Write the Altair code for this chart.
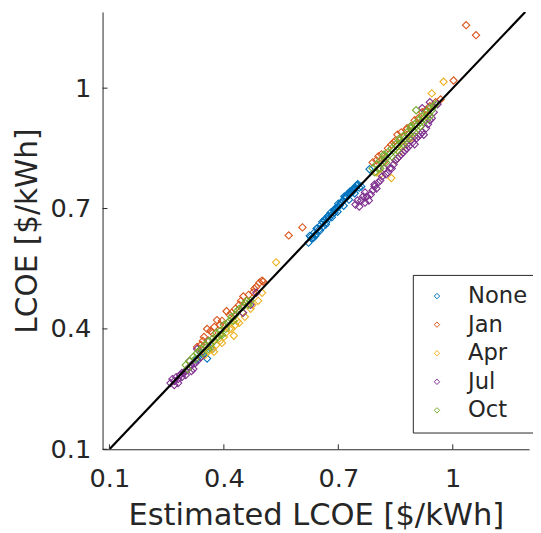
import altair as alt
import pandas as pd

series_names = ["None", "Jan", "Apr", "Jul", "Oct"]
series_colors = ["#0072BD", "#D95319", "#EDB120", "#7E2F8E", "#77AC30"]

none_x = [0.622, 0.628, 0.633, 0.637, 0.641, 0.645, 0.65, 0.655, 0.66, 0.664, 0.668, 0.672, 0.676, 0.68,
          0.684, 0.688, 0.692, 0.696, 0.70, 0.704, 0.708, 0.712, 0.716, 0.72, 0.725, 0.73, 0.735, 0.74,
          0.745, 0.75, 0.751, 0.782, 0.63, 0.66, 0.69, 0.72, 0.74, 0.33, 0.345, 0.356, 0.37,
          0.625, 0.635, 0.643, 0.652, 0.658, 0.667, 0.674, 0.683, 0.69, 0.698, 0.706, 0.714, 0.722,
          0.728, 0.737, 0.743, 0.748, 0.755, 0.64, 0.67, 0.70, 0.73, 0.76, 0.34, 0.365]
none_y = [0.615, 0.63, 0.628, 0.64, 0.636, 0.65, 0.648, 0.66, 0.655, 0.672, 0.665, 0.68, 0.676, 0.69,
          0.685, 0.695, 0.70, 0.70, 0.712, 0.708, 0.715, 0.72, 0.73, 0.728, 0.735, 0.742, 0.74, 0.75,
          0.752, 0.758, 0.761, 0.798, 0.625, 0.665, 0.69, 0.73, 0.745, 0.325, 0.335, 0.326, 0.35,
          0.632, 0.627, 0.65, 0.645, 0.667, 0.66, 0.682, 0.678, 0.697, 0.692, 0.713, 0.707, 0.728,
          0.722, 0.745, 0.738, 0.757, 0.752, 0.632, 0.676, 0.705, 0.738, 0.755, 0.34, 0.352]

jan_x = [1.035, 1.061, 1.002, 0.968, 0.855, 0.839, 0.813, 0.821, 0.878, 0.83, 0.85, 0.87, 0.80, 0.88,
         0.90, 0.92, 0.94, 0.57, 0.606, 0.503, 0.493, 0.477, 0.407, 0.382, 0.356, 0.348, 0.451, 0.37,
         0.39, 0.42, 0.44, 0.46, 0.48, 0.36, 0.79, 0.805, 0.845, 0.865, 0.89, 0.91, 0.93, 0.955,
         0.33, 0.345, 0.365, 0.375, 0.395, 0.415, 0.43, 0.445, 0.465, 0.485, 0.5, 0.34]
jan_y = [1.157, 1.132, 1.019, 0.972, 0.884, 0.859, 0.835, 0.817, 0.896, 0.85, 0.87, 0.88, 0.82, 0.90,
         0.92, 0.94, 0.955, 0.633, 0.653, 0.518, 0.515, 0.491, 0.444, 0.422, 0.40, 0.38, 0.481, 0.39,
         0.41, 0.44, 0.46, 0.47, 0.50, 0.37, 0.815, 0.83, 0.865, 0.89, 0.905, 0.925, 0.945, 0.965,
         0.355, 0.37, 0.395, 0.405, 0.42, 0.435, 0.45, 0.47, 0.485, 0.505, 0.52, 0.36]

apr_x = [0.976, 0.945, 0.839, 0.80, 0.82, 0.86, 0.88, 0.90, 0.93, 0.537, 0.34, 0.36, 0.38, 0.40,
         0.42, 0.43, 0.45, 0.47, 0.49, 0.50, 0.415, 0.374, 0.426, 0.85, 0.87, 0.89, 0.915, 0.81,
         0.35, 0.37, 0.39, 0.405, 0.435, 0.455, 0.475, 0.44, 0.395]
apr_y = [1.016, 0.987, 0.776, 0.79, 0.80, 0.84, 0.87, 0.89, 0.93, 0.566, 0.33, 0.345, 0.36, 0.38,
         0.40, 0.41, 0.44, 0.45, 0.47, 0.49, 0.40, 0.343, 0.383, 0.82, 0.855, 0.875, 0.905, 0.785,
         0.335, 0.35, 0.37, 0.39, 0.42, 0.43, 0.46, 0.415, 0.365]

jul_x = [0.26, 0.27, 0.275, 0.28, 0.285, 0.29, 0.295, 0.30, 0.305, 0.31, 0.315, 0.32, 0.325, 0.33,
         0.34, 0.27, 0.29, 0.33, 0.45, 0.47, 0.485, 0.36, 0.745, 0.755, 0.76, 0.77, 0.775, 0.785,
         0.79, 0.80, 0.765, 0.78, 0.81, 0.83, 0.84, 0.85, 0.86, 0.87, 0.88, 0.90, 0.91, 0.92, 0.93,
         0.94, 0.95, 0.89, 0.924, 0.94, 0.92, 0.96, 0.265, 0.28, 0.3, 0.315, 0.31, 0.795, 0.805,
         0.815, 0.825, 0.835, 0.845, 0.855, 0.865, 0.875, 0.885, 0.895, 0.905, 0.915, 0.935, 0.945,
         0.75, 0.77, 0.795, 0.82, 0.88, 0.9]
jul_y = [0.265, 0.27, 0.28, 0.275, 0.285, 0.28, 0.29, 0.295, 0.30, 0.305, 0.31, 0.30, 0.315, 0.32,
         0.33, 0.26, 0.29, 0.35, 0.44, 0.46, 0.49, 0.37, 0.71, 0.705, 0.72, 0.715, 0.73, 0.735,
         0.745, 0.75, 0.73, 0.72, 0.77, 0.79, 0.80, 0.82, 0.83, 0.84, 0.85, 0.86, 0.88, 0.89, 0.90,
         0.92, 0.94, 0.87, 0.884, 0.965, 0.95, 0.96, 0.275, 0.265, 0.285, 0.295, 0.32, 0.76, 0.765,
         0.78, 0.785, 0.80, 0.81, 0.825, 0.835, 0.845, 0.855, 0.865, 0.875, 0.885, 0.91, 0.925,
         0.72, 0.74, 0.755, 0.80, 0.86, 0.88]

oct_x = [0.79, 0.80, 0.805, 0.81, 0.815, 0.82, 0.825, 0.83, 0.835, 0.84, 0.845, 0.85, 0.855, 0.86,
         0.865, 0.87, 0.875, 0.88, 0.885, 0.89, 0.895, 0.90, 0.905, 0.91, 0.915, 0.92, 0.925, 0.93,
         0.935, 0.94, 0.945, 0.904, 0.95, 0.955, 0.30, 0.31, 0.32, 0.33, 0.34, 0.35, 0.355, 0.36,
         0.37, 0.38, 0.39, 0.40, 0.41, 0.42, 0.43, 0.44, 0.45, 0.46, 0.47, 0.345, 0.365, 0.385, 0.405,
         0.795, 0.81, 0.825, 0.84, 0.855, 0.87, 0.885, 0.90, 0.915, 0.93, 0.94, 0.82, 0.86, 0.89,
         0.305, 0.325, 0.335, 0.375, 0.395, 0.415, 0.425, 0.435, 0.455, 0.465, 0.36, 0.39]
oct_y = [0.80, 0.81, 0.80, 0.82, 0.815, 0.83, 0.825, 0.84, 0.835, 0.85, 0.845, 0.86, 0.855, 0.87,
         0.865, 0.88, 0.875, 0.89, 0.885, 0.90, 0.895, 0.91, 0.905, 0.92, 0.915, 0.93, 0.925, 0.94,
         0.935, 0.95, 0.945, 0.945, 0.955, 0.96, 0.31, 0.32, 0.33, 0.34, 0.35, 0.36, 0.355, 0.37,
         0.375, 0.39, 0.395, 0.41, 0.415, 0.43, 0.435, 0.45, 0.455, 0.47, 0.47, 0.34, 0.36, 0.38, 0.40,
         0.79, 0.80, 0.815, 0.83, 0.845, 0.86, 0.875, 0.89, 0.905, 0.92, 0.93, 0.835, 0.875, 0.905,
         0.30, 0.325, 0.345, 0.37, 0.385, 0.42, 0.42, 0.445, 0.465, 0.46, 0.35, 0.385]

ref_line_vals = [0.1, 1.19]
tick_vals = [0.1, 0.4, 0.7, 1.0]

rows = []
for name, xs_, ys_ in [("None", none_x, none_y), ("Jan", jan_x, jan_y), ("Apr", apr_x, apr_y),
                       ("Jul", jul_x, jul_y), ("Oct", oct_x, oct_y)]:
    for a, b in zip(xs_, ys_):
        rows.append({"est": a, "lcoe": b, "series": name})
df = pd.DataFrame(rows)
line_df = pd.DataFrame({"est": ref_line_vals, "lcoe": ref_line_vals})
ticks_df = pd.DataFrame({"v": tick_vals})

W, H = 433, 444
FONT = "DejaVu Sans"
TXT = "#262626"

xs = alt.Scale(domain=[0.082, 1.2], nice=False, zero=False)
ys = alt.Scale(domain=[0.1, 1.19], nice=False, zero=False)

points = alt.Chart(df).mark_point(shape="diamond", filled=False, size=55, strokeWidth=1.1, opacity=1).encode(
    x=alt.X("est:Q", scale=xs, title="Estimated LCOE [$/kWh]",
            axis=alt.Axis(values=tick_vals, format="~g", ticks=False, grid=False, labelFontSize=26,
                          labelPadding=17, titleFontSize=31, titlePadding=9, labelFlush=False,
                          labelColor=TXT, titleColor=TXT, domainColor=TXT, titleFontWeight="normal",
                          labelFont=FONT, titleFont=FONT)),
    y=alt.Y("lcoe:Q", scale=ys, title="LCOE [$/kWh]",
            axis=alt.Axis(values=tick_vals, format="~g", ticks=False, grid=False, labelFontSize=26,
                          labelPadding=12, titleFontSize=30, titlePadding=8, labelFlush=False,
                          labelColor=TXT, titleColor=TXT, domainColor=TXT, titleFontWeight="normal",
                          labelFont=FONT, titleFont=FONT)),
    color=alt.Color("series:N", scale=alt.Scale(domain=series_names, range=series_colors),
                    legend=alt.Legend(title=None, orient="none", legendX=315, legendY=267,
                                      symbolType="diamond", symbolSize=30, symbolStrokeWidth=1,
                                      labelFontSize=23, labelFont=FONT, labelColor=TXT,
                                      strokeColor="#262626", fillColor="white", padding=10,
                                      rowPadding=5, symbolOffset=3, labelOffset=20,
                                      labelLimit=200)),
)

ref = alt.Chart(line_df).mark_line(color="black", strokeWidth=2.2, clip=True).encode(
    x=alt.X("est:Q", scale=xs), y=alt.Y("lcoe:Q", scale=ys))

xticks = alt.Chart(ticks_df).mark_rule(color=TXT, strokeWidth=1).encode(
    x=alt.X("v:Q", scale=xs), y=alt.value(H - 5), y2=alt.value(H))
yticks = alt.Chart(ticks_df).mark_rule(color=TXT, strokeWidth=1).encode(
    y=alt.Y("v:Q", scale=ys), x=alt.value(0), x2=alt.value(5))

chart = alt.layer(points, ref, xticks, yticks).properties(
    width=W, height=H,
    padding={"left": 96, "top": 0, "right": 4, "bottom": 80},
    autosize=alt.AutoSizeParams(type="none"),
).configure_view(stroke=None).configure_axis(domainWidth=1)

chart.save("out.html", embed_options={"renderer": "svg", "actions": False})
